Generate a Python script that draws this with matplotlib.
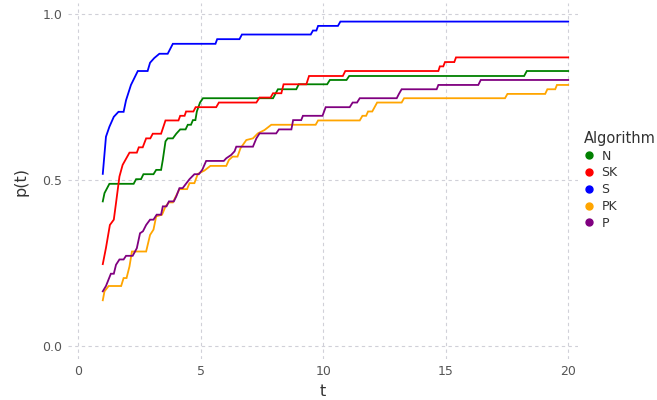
import matplotlib.pyplot as plt
from matplotlib.lines import Line2D

n_t = [1.0, 1.07, 1.27, 2.26, 2.36, 2.56, 2.66, 3.07, 3.18, 3.38, 3.45, 3.56, 3.65, 3.86,
       4.0, 4.16, 4.38, 4.47, 4.6, 4.68, 4.78, 4.84, 4.97, 5.09, 7.95, 8.15, 8.9, 9.0,
       10.16, 10.27, 10.95, 11.06, 18.2, 18.31, 20.0]
n_p = [0.435, 0.46, 0.488, 0.488, 0.502, 0.502, 0.517, 0.517, 0.53, 0.53, 0.56, 0.616, 0.625, 0.625,
       0.639, 0.652, 0.652, 0.666, 0.666, 0.68, 0.68, 0.706, 0.733, 0.746, 0.746, 0.773, 0.773, 0.788,
       0.788, 0.801, 0.801, 0.813, 0.813, 0.828, 0.828]

sk_t = [1.0, 1.13, 1.29, 1.45, 1.54, 1.68, 1.81, 2.09, 2.39, 2.47, 2.63, 2.77, 2.94, 3.04,
        3.38, 3.56, 4.09, 4.16, 4.34, 4.4, 4.7, 4.79, 5.63, 5.74, 7.27, 7.4, 7.85, 7.95,
        8.29, 8.38, 9.31, 9.42, 10.8, 10.9, 14.7, 14.76, 14.9, 14.97, 15.35, 15.42, 20.0]
sk_p = [0.246, 0.295, 0.364, 0.38, 0.43, 0.51, 0.545, 0.582, 0.582, 0.598, 0.598, 0.625, 0.625, 0.639,
        0.639, 0.679, 0.679, 0.693, 0.693, 0.706, 0.706, 0.719, 0.719, 0.733, 0.733, 0.748, 0.748, 0.761,
        0.761, 0.788, 0.788, 0.813, 0.813, 0.828, 0.828, 0.842, 0.842, 0.855, 0.855, 0.869, 0.869]

s_t = [1.0, 1.13, 1.27, 1.45, 1.64, 1.85, 1.95, 2.15, 2.43, 2.83, 2.93, 3.1, 3.31, 3.65,
       3.86, 5.6, 5.67, 6.58, 6.68, 9.49, 9.58, 9.72, 9.79, 10.6, 10.7, 20.0]
s_p = [0.518, 0.63, 0.66, 0.69, 0.705, 0.705, 0.74, 0.786, 0.828, 0.828, 0.853, 0.867, 0.88, 0.88,
       0.91, 0.91, 0.924, 0.924, 0.938, 0.938, 0.95, 0.95, 0.964, 0.964, 0.977, 0.977]

pk_t = [1.0, 1.07, 1.24, 1.75, 1.85, 1.97, 2.09, 2.19, 2.77, 2.93, 3.07, 3.18, 3.42, 3.56,
        3.7, 3.86, 4.13, 4.44, 4.54, 4.74, 4.88, 5.15, 5.39, 6.04, 6.15, 6.3, 6.5, 6.62,
        6.86, 7.13, 7.33, 7.6, 7.88, 9.69, 9.79, 11.49, 11.6, 11.75, 11.83, 12.0, 12.2, 13.2,
        13.3, 17.42, 17.52, 19.06, 19.15, 19.47, 19.54, 20.0]
pk_p = [0.137, 0.164, 0.18, 0.18, 0.204, 0.204, 0.239, 0.284, 0.284, 0.334, 0.35, 0.39, 0.395, 0.42,
        0.432, 0.432, 0.472, 0.472, 0.49, 0.49, 0.518, 0.528, 0.542, 0.542, 0.56, 0.57, 0.57, 0.595,
        0.62, 0.625, 0.64, 0.65, 0.666, 0.666, 0.679, 0.679, 0.693, 0.693, 0.706, 0.706, 0.733, 0.733,
        0.746, 0.746, 0.759, 0.759, 0.773, 0.773, 0.786, 0.786]

p_t = [1.0, 1.13, 1.33, 1.45, 1.54, 1.68, 1.85, 1.95, 2.22, 2.39, 2.52, 2.64, 2.77, 2.93,
       3.07, 3.2, 3.38, 3.45, 3.6, 3.7, 3.9, 4.0, 4.13, 4.26, 4.54, 4.74, 4.92, 5.06,
       5.22, 5.94, 6.04, 6.24, 6.38, 6.45, 7.13, 7.27, 7.4, 8.08, 8.19, 8.7, 8.77, 9.1,
       9.17, 9.97, 10.1, 11.08, 11.2, 11.38, 11.49, 13.0, 13.09, 13.2, 14.63, 14.7, 16.33,
       16.43, 20.0]
p_p = [0.164, 0.18, 0.217, 0.217, 0.244, 0.26, 0.26, 0.271, 0.271, 0.294, 0.339, 0.345, 0.364, 0.38,
       0.38, 0.395, 0.395, 0.42, 0.42, 0.435, 0.435, 0.45, 0.475, 0.475, 0.502, 0.517, 0.517, 0.53,
       0.557, 0.557, 0.565, 0.575, 0.586, 0.6, 0.6, 0.625, 0.64, 0.64, 0.652, 0.652, 0.68, 0.68,
       0.693, 0.693, 0.719, 0.719, 0.733, 0.733, 0.746, 0.746, 0.759, 0.773, 0.773, 0.786, 0.786,
       0.801, 0.801]

algorithms = ["N", "SK", "S", "PK", "P"]
colors = ["green", "red", "blue", "orange", "purple"]
curves = [(n_t, n_p), (sk_t, sk_p), (s_t, s_p), (pk_t, pk_p), (p_t, p_p)]

x_ticks = [0, 5, 10, 15, 20]
y_ticks = [0.0, 0.5, 1.0]
y_tick_labels = ["0.0", "0.5", "1.0"]

fig = plt.figure(figsize=(6.57, 4.0), dpi=100)
ax = fig.add_axes([68 / 657, 41 / 400, 510 / 657, 356 / 400])

for (t, p), col in zip(curves, colors):
    ax.plot(t, p, color=col, linewidth=1.3, solid_joinstyle="miter")

ax.set_xlim(-0.42, 20.4)
ax.set_ylim(-0.04, 1.033)
ax.set_xticks(x_ticks)
ax.set_yticks(y_ticks)
ax.set_yticklabels(y_tick_labels)

ax.grid(True, color="#d0d0d8", linestyle=(0, (3, 3)), linewidth=0.8)
ax.set_axisbelow(True)
for sp in ax.spines.values():
    sp.set_visible(False)
ax.tick_params(length=0, labelsize=9, labelcolor="#555555", pad=4)

ax.set_xlabel("t", fontsize=11.5, color="#333333", labelpad=5)
ax.set_ylabel("p(t)", fontsize=11.5, color="#333333", labelpad=10)

handles = [Line2D([], [], linestyle="none", marker="o", markersize=5,
                  markerfacecolor=c, markeredgecolor=c) for c in colors]
leg = fig.legend(handles, algorithms, title="Algorithm", loc="upper left",
                 bbox_to_anchor=(579 / 657, 1 - 126 / 400), frameon=False,
                 fontsize=9, title_fontsize=10.5, handlelength=0.8,
                 handletextpad=0.6, labelspacing=0.3, borderaxespad=0)
leg._legend_box.align = "left"
leg.get_title().set_color("#333333")
for txt in leg.get_texts():
    txt.set_color("#333333")

fig.savefig("out.png", dpi=100)
